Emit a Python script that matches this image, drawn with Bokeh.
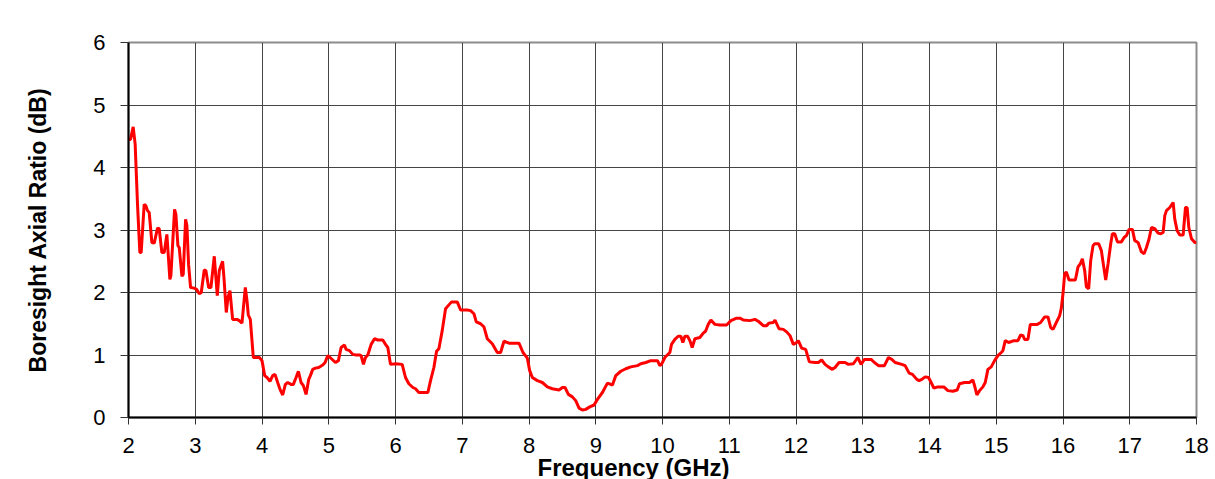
from bokeh.plotting import figure
from bokeh.models import FixedTicker, Range1d, Title
from bokeh.embed import file_html
from bokeh.resources import INLINE

freq_ghz = [
    2.0, 2.03, 2.07, 2.10, 2.135, 2.17, 2.19, 2.235, 2.26, 2.285, 2.31, 2.35, 2.385,
    2.435, 2.46, 2.50, 2.535, 2.575, 2.62, 2.635, 2.69, 2.71, 2.74, 2.76, 2.80, 2.82,
    2.855, 2.875, 2.90, 2.93, 2.985, 3.02, 3.06, 3.09, 3.135, 3.16, 3.20, 3.235, 3.285,
    3.33, 3.36, 3.41, 3.43, 3.465, 3.49, 3.52, 3.56, 3.625, 3.66, 3.70, 3.75, 3.775,
    3.795, 3.825, 3.87, 3.96, 4.00, 4.04, 4.075, 4.12, 4.16, 4.195, 4.235, 4.27, 4.31,
    4.35, 4.385, 4.435, 4.47, 4.51, 4.545, 4.585, 4.62, 4.66, 4.70, 4.725, 4.76, 4.80,
    4.85, 4.91, 4.945, 4.985, 5.02, 5.06, 5.10, 5.145, 5.185, 5.235, 5.26, 5.31, 5.36,
    5.41, 5.46, 5.485, 5.52, 5.55, 5.585, 5.635, 5.685, 5.735, 5.81, 5.85, 5.885, 5.925,
    6.0, 6.10, 6.15, 6.20, 6.26, 6.30, 6.35, 6.45, 6.485, 6.525, 6.575, 6.615, 6.65,
    6.70, 6.75, 6.79, 6.84, 6.925, 6.975, 7.075, 7.125, 7.175, 7.21, 7.275, 7.325,
    7.375, 7.45, 7.525, 7.575, 7.625, 7.70, 7.85, 7.91, 7.975, 8.01, 8.05, 8.125, 8.20,
    8.275, 8.35, 8.45, 8.50, 8.54, 8.59, 8.65, 8.70, 8.75, 8.80, 8.85, 8.91, 8.975,
    9.025, 9.10, 9.175, 9.25, 9.30, 9.375, 9.45, 9.525, 9.625, 9.675, 9.75, 9.825,
    9.925, 9.96, 9.985, 10.035, 10.11, 10.135, 10.185, 10.235, 10.275, 10.305, 10.335,
    10.375, 10.41, 10.445, 10.485, 10.56, 10.61, 10.645, 10.685, 10.725, 10.785, 10.86,
    10.96, 11.025, 11.11, 11.16, 11.21, 11.31, 11.385, 11.435, 11.51, 11.56, 11.595,
    11.66, 11.685, 11.745, 11.81, 11.86, 11.91, 11.96, 12.01, 12.035, 12.085, 12.145,
    12.20, 12.285, 12.335, 12.385, 12.435, 12.485, 12.545, 12.585, 12.645, 12.735,
    12.785, 12.86, 12.925, 12.975, 13.025, 13.125, 13.175, 13.235, 13.325, 13.385,
    13.435, 13.485, 13.585, 13.635, 13.695, 13.745, 13.81, 13.845, 13.885, 13.935,
    13.985, 14.025, 14.065, 14.125, 14.215, 14.275, 14.35, 14.415, 14.45, 14.525,
    14.60, 14.65, 14.675, 14.71, 14.75, 14.80, 14.835, 14.875, 14.925, 14.975, 15.025,
    15.075, 15.10, 15.135, 15.185, 15.265, 15.325, 15.365, 15.40, 15.425, 15.475,
    15.51, 15.615, 15.665, 15.725, 15.775, 15.815, 15.85, 15.90, 15.95, 15.975, 16.0,
    16.025, 16.05, 16.09, 16.185, 16.225, 16.26, 16.29, 16.325, 16.35, 16.385, 16.415,
    16.45, 16.475, 16.535, 16.575, 16.61, 16.64, 16.675, 16.715, 16.74, 16.775, 16.815,
    16.875, 16.915, 16.95, 16.99, 17.04, 17.075, 17.125, 17.175, 17.215, 17.25, 17.29,
    17.325, 17.375, 17.425, 17.465, 17.50, 17.525, 17.55, 17.60, 17.65, 17.675, 17.71,
    17.75, 17.80, 17.835, 17.86, 17.885, 17.925, 17.975, 18.0,
]

axial_ratio_db = [
    4.45, 4.45, 4.65, 4.37, 3.41, 2.64, 2.64, 3.41, 3.39, 3.31, 3.28, 2.80, 2.79,
    3.03, 3.02, 2.64, 2.64, 2.93, 2.21, 2.27, 3.33, 3.25, 2.75, 2.72, 2.26, 2.29,
    3.17, 3.07, 2.45, 2.08, 2.07, 2.05, 1.98, 2.00, 2.36, 2.35, 2.08, 2.08, 2.58,
    1.95, 2.35, 2.50, 2.24, 1.68, 1.92, 2.03, 1.57, 1.57, 1.55, 1.51, 2.08, 1.87,
    1.64, 1.57, 0.96, 0.96, 0.91, 0.67, 0.64, 0.58, 0.67, 0.69, 0.56, 0.45, 0.36,
    0.53, 0.56, 0.53, 0.53, 0.64, 0.74, 0.56, 0.51, 0.37, 0.61, 0.67, 0.77, 0.79,
    0.80, 0.84, 0.88, 0.99, 0.96, 0.92, 0.88, 0.91, 1.12, 1.16, 1.09, 1.07, 1.01,
    1.00, 1.00, 0.99, 0.85, 0.96, 1.00, 1.17, 1.26, 1.24, 1.24, 1.17, 1.12, 0.85,
    0.86, 0.85, 0.64, 0.54, 0.48, 0.46, 0.40, 0.40, 0.40, 0.59, 0.80, 1.06, 1.10,
    1.39, 1.74, 1.79, 1.85, 1.85, 1.72, 1.72, 1.71, 1.66, 1.53, 1.50, 1.45,
    1.26, 1.18, 1.04, 1.04, 1.22, 1.19, 1.19, 1.04, 0.95, 0.75, 0.64, 0.59, 0.56,
    0.49, 0.46, 0.44, 0.48, 0.48, 0.37, 0.33, 0.27, 0.15, 0.12, 0.13, 0.17, 0.20,
    0.29, 0.40, 0.55, 0.52, 0.67, 0.74, 0.78, 0.81, 0.83, 0.86, 0.88, 0.91,
    0.91, 0.83, 0.85, 0.96, 1.04, 1.17, 1.25, 1.30, 1.30, 1.20, 1.30,
    1.30, 1.23, 1.12, 1.26, 1.28, 1.35, 1.38, 1.49, 1.56, 1.49, 1.48,
    1.48, 1.55, 1.59, 1.59, 1.56, 1.55, 1.57, 1.54, 1.47, 1.47, 1.51,
    1.52, 1.56, 1.42, 1.41, 1.37, 1.31, 1.17, 1.20, 1.23, 1.11, 1.09,
    0.89, 0.88, 0.88, 0.92, 0.85, 0.81, 0.77, 0.80, 0.88, 0.88,
    0.85, 0.86, 0.96, 0.85, 0.93, 0.93, 0.88, 0.83, 0.83, 0.96,
    0.93, 0.88, 0.85, 0.83, 0.71, 0.69, 0.61, 0.59, 0.61, 0.65,
    0.64, 0.56, 0.47, 0.49, 0.49, 0.43, 0.42, 0.44, 0.54, 0.56,
    0.56, 0.60, 0.51, 0.36, 0.43, 0.49, 0.56, 0.77, 0.81, 0.91, 0.99,
    1.04, 1.07, 1.23, 1.20, 1.23, 1.23, 1.32, 1.31, 1.25, 1.25,
    1.49, 1.49, 1.52, 1.61, 1.61, 1.44, 1.41, 1.52, 1.63, 1.75, 1.98,
    2.30, 2.33, 2.20, 2.20, 2.41, 2.46, 2.54, 2.35, 2.09, 2.06, 2.51,
    2.75, 2.78, 2.78, 2.67, 2.41, 2.20, 2.46, 2.78, 2.94, 2.94, 2.81,
    2.81, 2.88, 2.91, 3.01, 3.01, 2.83, 2.80, 2.65, 2.62, 2.72, 2.86,
    3.04, 3.02, 2.95, 2.94, 2.96, 3.23, 3.31, 3.36, 3.44, 3.17, 2.99,
    2.92, 2.92, 3.36, 3.36, 3.04, 2.86, 2.80, 2.80,
]

x_ticks = list(range(2, 19))
y_ticks = list(range(0, 7))
x_title = "Frequency (GHz)"
y_title = "Boresight Axial Ratio (dB)"

FONT = "Liberation Sans"

p = figure(
    width=1215, height=479,
    x_range=Range1d(2, 18), y_range=Range1d(0, 6),
    output_backend="svg", toolbar_location=None,
    min_border_left=128, min_border_right=19,
    min_border_top=42, min_border_bottom=62,
    background_fill_color="white", border_fill_color="white",
)

p.outline_line_color = "#8c8c8c"
p.outline_line_width = 2

p.xaxis.ticker = FixedTicker(ticks=x_ticks)
p.yaxis.ticker = FixedTicker(ticks=y_ticks)

for ax in (p.xaxis, p.yaxis):
    ax.axis_line_color = "black"
    ax.axis_line_width = 2
    ax.major_tick_in = 0
    ax.major_tick_line_color = "#333333"
    ax.major_tick_line_width = 1
    ax.minor_tick_line_color = None
    ax.major_label_text_font = FONT
    ax.major_label_text_font_size = "22px"
    ax.major_label_text_color = "black"

p.xaxis.major_tick_out = 7
p.xaxis.major_label_standoff = 13

p.yaxis.major_tick_out = 8
p.yaxis.major_label_standoff = 15
p.yaxis.axis_label = y_title
p.yaxis.axis_label_standoff = 39
p.yaxis.axis_label_text_font = FONT
p.yaxis.axis_label_text_font_size = "23px"
p.yaxis.axis_label_text_font_style = "bold"
p.yaxis.axis_label_text_color = "black"

# x-axis title as a title panel below the axis, placed a little left of centre as in the reference
p.add_layout(Title(
    text=x_title, align="left", offset=409, standoff=-8,
    text_font=FONT, text_font_size="24px", text_font_style="bold",
    text_color="black",
), "below")

p.grid.grid_line_color = "#444444"
p.grid.grid_line_width = 1

p.line(freq_ghz, axial_ratio_db, line_color="#ff0000", line_width=3)

open("out.html", "w").write(file_html(p, INLINE))
